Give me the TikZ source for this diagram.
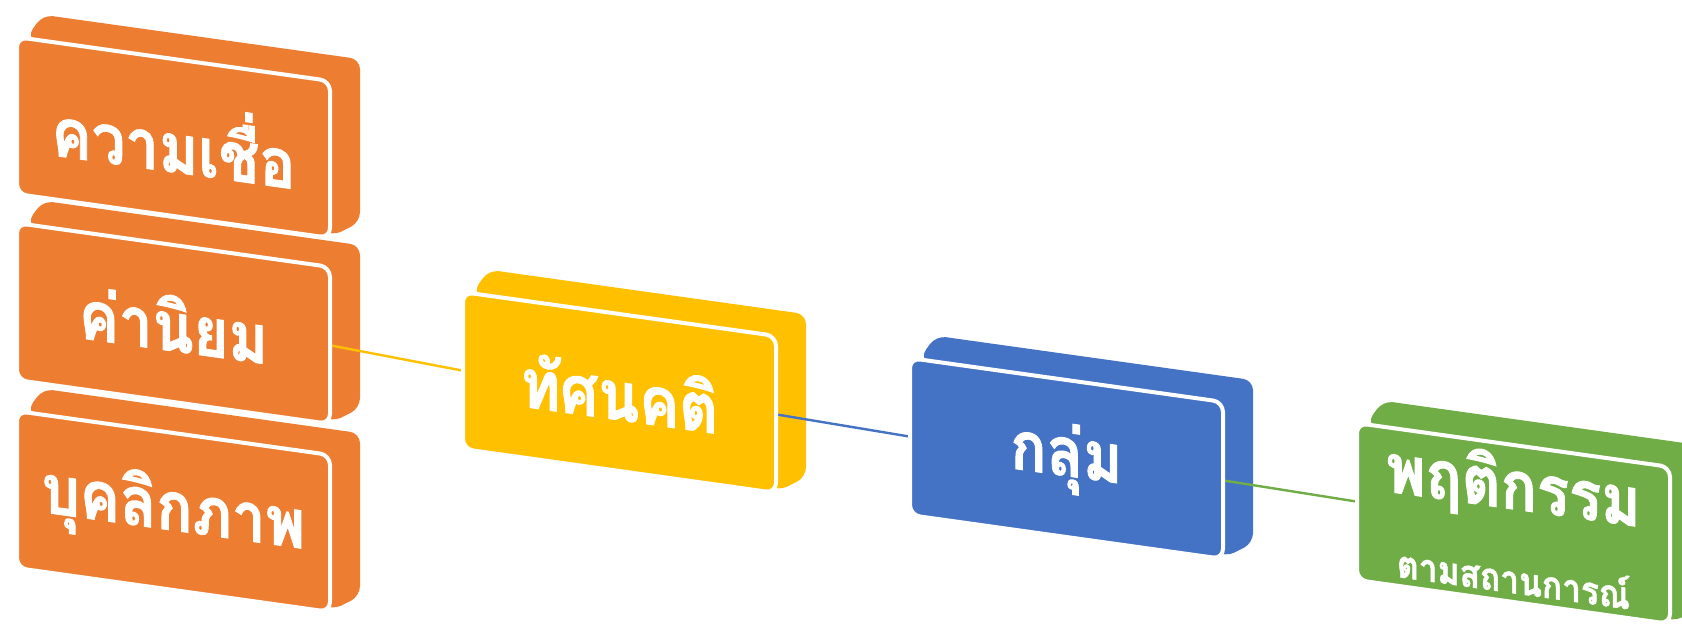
\documentclass[tikz,border=0pt]{standalone}
\usepackage{fontspec}
\newfontfamily\thaifont[Script=Thai,FakeStretch=0.88,BoldFeatures={FakeBold=1.3}]{Loma}
\usetikzlibrary{backgrounds}
\definecolor{orangeB}{HTML}{ED7D31}
\definecolor{yellowB}{HTML}{FFC000}
\definecolor{blueB}{HTML}{4472C4}
\definecolor{greenB}{HTML}{70AD47}
\tikzset{face/.style={draw=white,line width=2pt,rounded corners=5pt,minimum width=156.5pt,minimum height=78.5pt,inner sep=0pt,yslant=-0.14,text=white,align=center,font=\thaifont\bfseries\fontsize{34}{35}\selectfont}}
\newcommand{\bloc}[4]{\node[face,fill=#2] (#1) at (#3) {#4};}
\newcommand{\relief}[2]{\fill[#2,rounded corners=5pt] ([shift={(12,2)}]#1.north west) -- ([shift={(28,-20)}]#1.north west) -- ([shift={(28,-20)}]#1.north east) -- ([shift={(28,-18)}]#1.south east) -- ([shift={(0,-4)}]#1.south east) -- (#1.center) -- cycle;}
\newcommand{\lien}[3]{\draw[#3,line width=1.2pt] (#1.east) -- (#2.west);}

\begin{document}
\begin{tikzpicture}[x=0.5pt,y=-0.5pt]
	\useasboundingbox (0,0) rectangle (1682,627);
	\bloc{khwamchuea}{orangeB}{173.5,137.5}{ความเชื่อ}
	\bloc{khaniyom}{orangeB}{173.5,323.5}{ค่านิยม}
	\bloc{bukhalikkaphap}{orangeB}{173.5,511.5}{บุคลิกภาพ}
	\bloc{thatsanakhati}{yellowB}{619.5,392.5}{ทัศนคติ}
	\bloc{klum}{blueB}{1066.5,458.5}{กลุ่ม}
	\bloc{phruettikam}{greenB}{1513.5,523.5}{พฤติกรรม\\[7pt]{\fontsize{19}{20}\selectfont ตามสถานการณ์}}
	\begin{scope}[on background layer]
		\relief{khwamchuea}{orangeB}
		\relief{khaniyom}{orangeB}
		\relief{bukhalikkaphap}{orangeB}
		\relief{thatsanakhati}{yellowB}
		\relief{klum}{blueB}
		\relief{phruettikam}{greenB}
		\lien{khaniyom}{thatsanakhati}{yellowB}
		\lien{thatsanakhati}{klum}{blueB}
		\lien{klum}{phruettikam}{greenB}
	\end{scope}
\end{tikzpicture}
\end{document}
